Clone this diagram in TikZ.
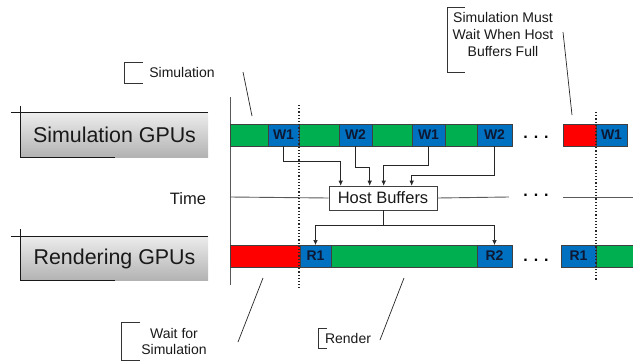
\documentclass[tikz,border=0pt]{standalone}
\usepackage{fontspec}
\setmainfont{Liberation Sans}
\usetikzlibrary{arrows.meta}

\definecolor{simgreen}{RGB}{0,176,80}
\definecolor{workblue}{RGB}{0,112,192}
\definecolor{waitred}{RGB}{255,0,0}
\definecolor{labelnavy}{RGB}{14,24,50}

\tikzset{
  segment/.style={draw=black!75, line width=0.6pt, minimum height=22pt,
    inner sep=0pt, outer sep=0pt, anchor=north west},
  greenseg/.style={segment, fill=simgreen},
  redseg/.style={segment, fill=waitred},
  blueseg/.style={segment, fill=workblue, text=labelnavy,
    font=\fontsize{14}{15}\selectfont\bfseries},
  gpubox/.style={minimum width=187pt, minimum height=44pt, inner sep=0pt,
    top color=gray!15, bottom color=gray!60, shading angle=0,
    font=\fontsize{21.4}{24}\selectfont, text=black!90},
  frame/.style={draw=black!90, line width=0.8pt},
  axis/.style={draw=black!65, line width=0.9pt},
  timeline/.style={draw=black!65, line width=0.9pt},
  marker/.style={draw=black!85, line width=1.2pt, dotted},
  arr/.style={draw=black!85, line width=0.6pt, -{Latex[length=5pt,width=4.5pt]}},
  hostbox/.style={draw=black!75, fill=white, line width=0.6pt,
    minimum width=108pt, minimum height=24pt, inner sep=0pt,
    font=\fontsize{16.5}{18}\selectfont, text=black!90},
  dots/.style={font=\fontsize{16}{18}\selectfont\bfseries, inner sep=0pt},
  note/.style={font=\fontsize{14}{17}\selectfont, align=center, inner sep=0pt, text=black!90},
  leader/.style={draw=black!85, line width=0.7pt},
  bracket/.style={draw=black!80, line width=0.6pt},
}

% one bar segment: name, left x, right x, top y, style, label
\newcommand\segbox[6]{%
  \node[#5, minimum width=#3pt-#2pt] (#1) at (#2,#4) {#6};}

\begin{document}
\begin{tikzpicture}[x=1pt, y=-1pt]
  \useasboundingbox (0,0) rectangle (633,362);

  % row labels
  \node[gpubox] (simgpu) at (114.5,135) {Simulation GPUs};
  \draw[frame] ([xshift=-10pt]simgpu.north west) -- (simgpu.north east);
  \draw[frame] ([yshift=7pt]simgpu.north west) -- (simgpu.south west)
               -- ([xshift=94pt]simgpu.south west);

  \node[gpubox] (rengpu) at (114.5,258.5) {Rendering GPUs};
  \draw[frame] ([xshift=-10pt]rengpu.north west) -- (rengpu.north east);
  \draw[frame] ([yshift=7pt]rengpu.north west) -- (rengpu.south west)
               -- ([xshift=94pt]rengpu.south west);

  % time axis
  \coordinate (axtop) at (230,97);
  \coordinate (axbot) at (230,285);
  \draw[axis] (axtop) -- (axbot);
  \node[font=\fontsize{16.5}{18}\selectfont, text=black!90] (time) at (188,199) {Time};

  % host buffers on the time line
  \node[hostbox] (hb) at (383,198) {Host Buffers};
  \coordinate (tl0) at (230,197);
  \coordinate (tl1) at (509,197);
  \coordinate (tl2) at (563,197);
  \coordinate (tl3) at (633,197);
  \draw[timeline] (tl0) -- (hb.west);
  \draw[timeline] (hb.east) -- (tl1);
  \draw[timeline] (tl2) -- (tl3);

  % simulation bar
  \segbox{g1}{230}{268}{124}{greenseg}{}
  \segbox{w1}{268}{299}{124}{blueseg}{W1}
  \segbox{g2}{299}{339}{124}{greenseg}{}
  \segbox{w2}{339}{372}{124}{blueseg}{W2}
  \segbox{g3}{372}{412}{124}{greenseg}{}
  \segbox{w3}{412}{445}{124}{blueseg}{W1}
  \segbox{g4}{445}{477}{124}{greenseg}{}
  \segbox{w4}{477}{512}{124}{blueseg}{W2}
  \segbox{sred}{563}{596}{124}{redseg}{}
  \segbox{w5}{596}{627}{124}{blueseg}{W1}

  % rendering bar
  \segbox{rred}{230}{300}{245}{redseg}{}
  \segbox{r1}{300}{331}{245}{blueseg}{R1}
  \segbox{rg1}{331}{477}{245}{greenseg}{}
  \segbox{r2}{477}{512}{245}{blueseg}{R2}
  \segbox{r3}{561}{596}{245}{blueseg}{R1}
  \segbox{rg2}{596}{633}{245}{greenseg}{}

  % ellipses
  \node[dots] (d1) at (536,137) {. . .};
  \node[dots] (d2) at (536,195) {. . .};
  \node[dots] (d3) at (536,260) {. . .};

  % dotted markers
  \coordinate (m1t) at (299,105);
  \coordinate (m1b) at (299,288);
  \coordinate (m2t) at (596,112);
  \coordinate (m2b) at (596,280);
  \draw[marker] (m1t) -- (m1b);
  \draw[marker] (m2t) -- (m2b);

  % writes into host buffers
  \draw[arr] (w1.south) |- ([xshift=12pt,yshift=24pt]hb.north west) -- ([xshift=12pt]hb.north west);
  \draw[arr] (w2.south) |- ([xshift=41pt,yshift=18pt]hb.north west) -- ([xshift=41pt]hb.north west);
  \draw[arr] (w3.south) |- ([xshift=55pt,yshift=20pt]hb.north west) -- ([xshift=55pt]hb.north west);
  \draw[arr] (w4.south) |- ([xshift=83pt,yshift=10pt]hb.north west) -- ([xshift=83pt]hb.north west);

  % reads from host buffers
  \draw[arr] (hb.south) |- ([yshift=20pt]r1.north) -- (r1.north);
  \draw[arr] (hb.south) |- ([yshift=20pt]r2.north) -- (r2.north);

  % callout: Simulation
  \node[note] (nsim) at (182,72) {Simulation};
  \draw[bracket] (143,62) -- (124,62) -- (124,83) -- (143,83);
  \coordinate (lsim0) at (243,72);
  \coordinate (lsim1) at (252,116);
  \draw[leader] (lsim0) -- (lsim1);

  % callout: simulation must wait
  \node[note, font=\fontsize{14}{17}\selectfont] (nwait) at (503,34)
    {Simulation Must\\Wait When Host\\Buffers Full};
  \draw[bracket] (465,7) -- (447,7) -- (447,72) -- (465,72);
  \coordinate (lw0) at (563,32);
  \coordinate (lw1) at (572,115);
  \draw[leader] (lw0) -- (lw1);

  % callout: wait for simulation
  \node[note, font=\fontsize{14}{16}\selectfont] (nwfs) at (174,341)
    {Wait for\\Simulation};
  \draw[bracket] (140,322) -- (121,322) -- (121,360) -- (140,360);
  \coordinate (lf0) at (238,342);
  \coordinate (lf1) at (263,278);
  \draw[leader] (lf0) -- (lf1);

  % callout: render
  \node[note] (nren) at (348,338) {Render};
  \draw[bracket] (327,328) -- (318,328) -- (318,348) -- (327,348);
  \coordinate (lr0) at (380,340);
  \coordinate (lr1) at (404,278);
  \draw[leader] (lr0) -- (lr1);
\end{tikzpicture}
\end{document}
